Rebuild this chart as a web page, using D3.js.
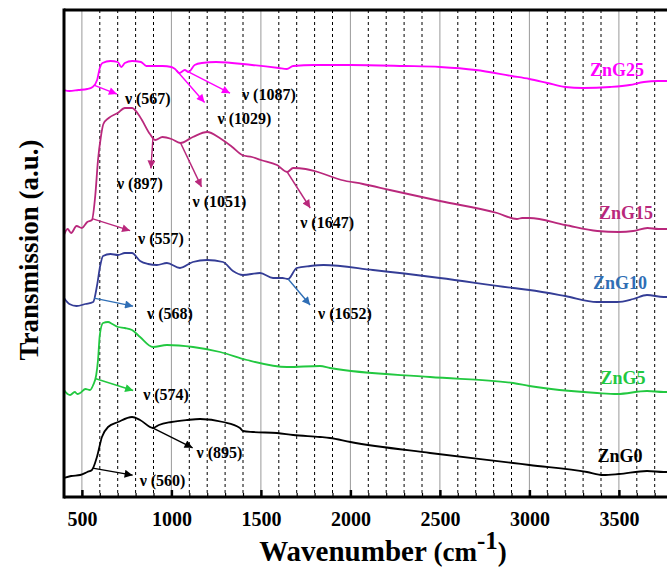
<!DOCTYPE html>
<html>
<head>
<meta charset="utf-8">
<script src="https://cdn.jsdelivr.net/npm/d3@7"></script>
<style>
  body { margin: 0; background: #fff; }
  svg { display: block; font-family: "Times New Roman", "Liberation Serif", serif; }
</style>
</head>
<body>
<svg id="chart" width="667" height="568"></svg>
<script>
// FTIR spectra, values (transmission, arbitrary units)
var seriesNames = ["ZnG0", "ZnG5", "ZnG10", "ZnG15", "ZnG25"];

var zng0 = [[400,19],[440,21],[490,22],[530,25],[556,27],[584,40],[612,60],[646,70],[702,75],
  [780,80],[825,77],[897,69],[930,72],[1000,75],[1087,77],[1160,78],[1288,75],[1383,69],[1400,66],
  [1456,65],[1590,64],[1680,62],[1830,60],[1886,59],[2000,55],[2445,44],[2909,34],[3000,32],
  [3322,25],[3412,22],[3500,23],[3657,26],[3750,25],[4000,25]];

var zng5 = [[400,107],[420,103],[434,102],[460,105],[475,103],[490,104],[520,108],[545,107],[563,112],
  [580,122],[590,137],[600,162],[618,174],[646,175],[670,173],[702,170],[740,169],[780,167],[825,160],
  [897,150],[975,152],[1121,150],[1272,145],[1422,137],[1646,130],[1830,131],[1886,129],
  [2445,120],[2909,114],[3000,111],[3378,104],[3490,103],[3657,106],[3750,105],[4000,105]];

var zng10 = [[400,199],[430,193],[470,191],[520,193],[563,195],[585,212],[601,230],[618,241],[660,243],
  [702,242],[740,244],[780,244],[825,236],[870,233],[919,232],[975,234],[1048,229],[1120,235],
  [1199,237],[1288,235],[1344,226],[1400,222],[1495,224],[1568,219],[1620,219],[1652,218],
  [1700,229],[1775,231],[1850,232],[2126,227],[2500,219],[2909,209],[3000,207],[3200,201],
  [3378,195],[3490,195],[3580,198],[3657,202],[3750,200],[4000,200]];

var zng15 = [[400,262],[420,268],[440,264],[470,271],[500,269],[530,275],[556,277],[575,302],[590,337],
  [605,359],[620,373],[650,379],[700,384],[740,389],[780,389],[825,380],[880,363],[910,357],
  [950,360],[1000,358],[1050,354],[1120,360],[1200,365],[1270,359],[1340,350],[1395,342],
  [1450,340],[1500,337],[1590,332],[1647,325],[1680,329],[1750,328],[1800,326],[1950,317],
  [2070,313],[2220,307],[2500,296],[2820,284],[2930,278],[2960,279],[3000,279],[3200,272],
  [3380,266],[3500,265],[3580,266],[3660,269],[3720,268],[4000,268]];

var zng25 = [[400,407],[430,406],[480,407],[530,408],[560,410],[585,417],[600,429],[615,434],[660,436],
  [700,435],[720,430],[740,434],[780,436],[830,435],[860,431],[950,431],[1000,430],[1020,428],
  [1045,424],[1075,427],[1095,425],[1130,432],[1170,434],[1250,435],[1450,432],[1600,429],
  [1645,428],[1680,431],[1800,432],[2000,432],[2300,431],[2500,430],[2700,427],[2900,421],
  [3000,418],[3100,414],[3200,410],[3300,409],[3450,410],[3560,412],[3640,415],[3720,416],[4000,416]];

// marked bands (cm-1)
var peaks0 = [560, 895];
var peaks5 = [574];
var peaks10 = [568, 1652];
var peaks15 = [557, 897, 1051, 1647];
var peaks25 = [567, 1029, 1087];

var xTicks = [500, 1000, 1500, 2000, 2500, 3000, 3500];

// ---- styling / layout ----
var colors = { ZnG0: "#000000", ZnG5: "#22c840", ZnG10: "#343d96", ZnG15: "#b9287c", ZnG25: "#ff00ff" };
var arrowColors = { ZnG0: "#000000", ZnG5: "#22c840", ZnG10: "#2f6eb5", ZnG15: "#b9287c", ZnG25: "#ff00ff" };
var labelPos = { ZnG0: [620, 456], ZnG5: [623, 378], ZnG10: [620, 283], ZnG15: [626, 213], ZnG25: [617, 70] };
// [arrow dx, arrow dy, text dx, text dy] relative to the band point / arrow tip
var arrowLayout = {
  "ZnG25-567": [23, 9, 8, 4], "ZnG25-1029": [28, 32, 13, 16], "ZnG25-1087": [43, 22, 12, 1],
  "ZnG15-557": [38, 12, 8, 8], "ZnG15-897": [-2, 31, -34, 15], "ZnG15-1051": [21, 44, -9, 14],
  "ZnG15-1647": [23, 36, -10, 14],
  "ZnG10-568": [39, 8, 14, 7], "ZnG10-1652": [22, 26, 8, 8],
  "ZnG5-574": [38, 12, 10, 4],
  "ZnG0-560": [40, 7, 7, 5], "ZnG0-895": [40, 20, 4, 5]
};

var series = [
  { name: "ZnG0", values: zng0, peaks: peaks0 },
  { name: "ZnG5", values: zng5, peaks: peaks5 },
  { name: "ZnG10", values: zng10, peaks: peaks10 },
  { name: "ZnG15", values: zng15, peaks: peaks15 },
  { name: "ZnG25", values: zng25, peaks: peaks25 }
];

var svg = d3.select("#chart");
var plotLeft = 64, plotTop = 10, plotBottom = 497;

var x = d3.scaleLinear().domain([400, 4000]).range([plotLeft, plotLeft + 3600 * 0.179]);
var y = d3.scaleLinear().domain([0, 487]).range([plotBottom, plotTop]);

var defs = svg.append("defs");
defs.append("clipPath").attr("id", "plot")
  .append("rect").attr("x", plotLeft).attr("y", plotTop)
  .attr("width", 700).attr("height", plotBottom - plotTop);

// arrow markers
seriesNames.forEach(function(n) {
  defs.append("marker")
    .attr("id", "arr-" + n)
    .attr("viewBox", "0 0 10 10")
    .attr("refX", 10).attr("refY", 5)
    .attr("markerWidth", 13).attr("markerHeight", 8)
    .attr("markerUnits", "userSpaceOnUse")
    .attr("orient", "auto")
    .append("path").attr("d", "M0,0 L10,5 L0,10 z").attr("fill", arrowColors[n]);
});

// vertical grid: solid at 500s, dashed at 100s
var gridVals = d3.range(500, 4000, 100);
svg.append("g").selectAll("line").data(gridVals).join("line")
  .attr("x1", function(d) { return x(d); }).attr("x2", function(d) { return x(d); })
  .attr("y1", plotTop).attr("y2", plotBottom)
  .attr("stroke", function(d) { return d % 500 === 0 ? "#9a9a9a" : "#000"; })
  .attr("stroke-width", 1)
  .attr("stroke-dasharray", function(d) { return d % 500 === 0 ? null : "3,3"; });

// spectra
var line = d3.line()
  .x(function(d) { return x(d[0]); })
  .y(function(d) { return y(d[1]); })
  .curve(d3.curveMonotoneX);

svg.append("g").attr("clip-path", "url(#plot)")
  .selectAll("path").data(series).join("path")
  .attr("d", function(s) { return line(s.values); })
  .attr("fill", "none")
  .attr("stroke", function(s) { return colors[s.name]; })
  .attr("stroke-width", 1.8)
  .attr("stroke-linejoin", "round");

function valueAt(vals, w) {
  var i = d3.bisector(function(d) { return d[0]; }).left(vals, w);
  if (i <= 0) return vals[0][1];
  var a = vals[i - 1], b = vals[i];
  return a[1] + (b[1] - a[1]) * (w - a[0]) / (b[0] - a[0]);
}

// band annotations
var ann = svg.append("g");
series.forEach(function(s) {
  s.peaks.forEach(function(p) {
    var lay = arrowLayout[s.name + "-" + p];
    var x0 = x(p), y0 = y(valueAt(s.values, p));
    var x1 = x0 + lay[0], y1 = y0 + lay[1];
    ann.append("line")
      .attr("x1", x0).attr("y1", y0).attr("x2", x1).attr("y2", y1)
      .attr("stroke", arrowColors[s.name]).attr("stroke-width", 1.4)
      .attr("marker-end", "url(#arr-" + s.name + ")");
    ann.append("text")
      .attr("x", x1 + lay[2]).attr("y", y1 + lay[3]).attr("dy", "0.35em")
      .attr("font-size", 16).attr("font-weight", "bold").attr("fill", "#000")
      .text("\u03bd (" + p + ")");
  });
});

// series labels
svg.append("g").selectAll("text").data(series).join("text")
  .attr("x", function(s) { return labelPos[s.name][0]; })
  .attr("y", function(s) { return labelPos[s.name][1]; })
  .attr("dy", "0.35em")
  .attr("text-anchor", "middle")
  .attr("font-size", 18).attr("font-weight", "bold")
  .attr("fill", function(s) { return arrowColors[s.name]; })
  .text(function(s) { return s.name; });

// axes
var minor = svg.append("g").attr("transform", "translate(0," + plotBottom + ")")
  .call(d3.axisBottom(x).tickValues(gridVals.filter(function(d) { return d % 500 !== 0; }))
    .tickSize(-4).tickFormat(""));
minor.select(".domain").remove();
minor.selectAll(".tick line").attr("stroke", "#000").attr("stroke-width", 1.2);

var xAxis = svg.append("g").attr("transform", "translate(0," + plotBottom + ")")
  .call(d3.axisBottom(x).tickValues(xTicks).tickSize(-7).tickPadding(15).tickFormat(d3.format("d")));
xAxis.select(".domain").attr("stroke-width", 3).attr("d", "M" + plotLeft + ",0H667");
xAxis.selectAll(".tick line").attr("stroke", "#000").attr("stroke-width", 2.5);
xAxis.selectAll(".tick text")
  .attr("font-family", "'Times New Roman', 'Liberation Serif', serif")
  .attr("font-size", 20).attr("font-weight", "bold").attr("fill", "#000");

// frame: left and top
svg.append("line").attr("x1", plotLeft).attr("x2", plotLeft)
  .attr("y1", plotTop - 1.5).attr("y2", plotBottom + 1.5)
  .attr("stroke", "#000").attr("stroke-width", 3);
svg.append("line").attr("x1", plotLeft).attr("x2", 667).attr("y1", plotTop).attr("y2", plotTop)
  .attr("stroke", "#000").attr("stroke-width", 3);

// titles
var xt = svg.append("text").attr("x", 383).attr("y", 561).attr("text-anchor", "middle")
  .attr("font-size", 29).attr("font-weight", "bold");
xt.append("tspan").text("Wavenumber ");
xt.append("tspan").attr("font-size", 27).text("(cm");
xt.append("tspan").attr("font-size", 25).attr("dy", -12).text("-1");
xt.append("tspan").attr("font-size", 27).attr("dy", 12).text(")");

svg.append("text")
  .attr("transform", "translate(38,250) rotate(-90)")
  .attr("text-anchor", "middle")
  .attr("font-size", 27).attr("font-weight", "bold")
  .text("Transmission (a.u.)");
</script>
</body>
</html>
